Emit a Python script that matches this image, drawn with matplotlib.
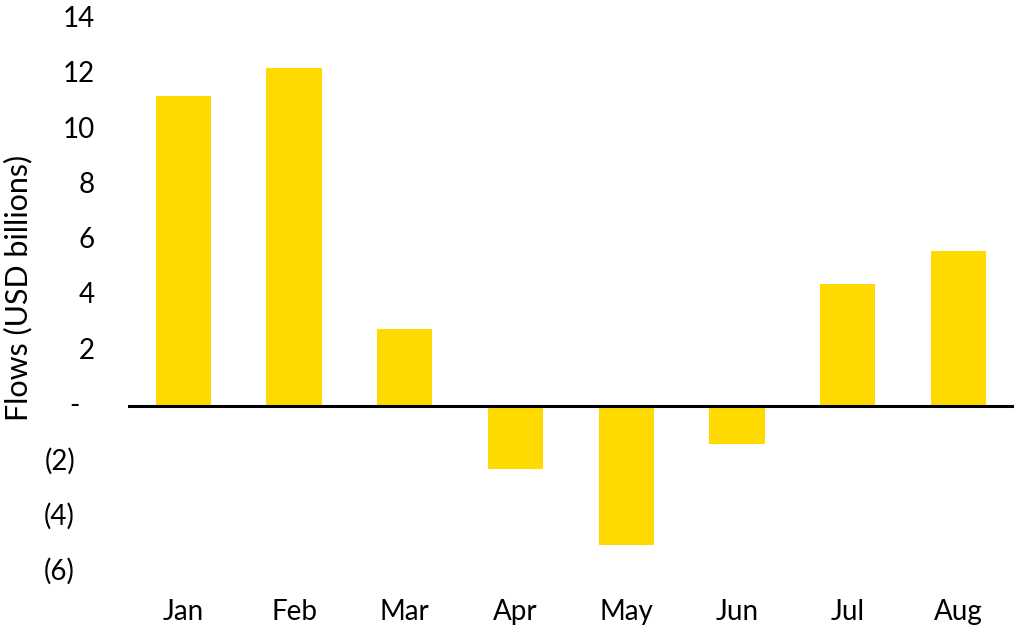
import matplotlib
matplotlib.use("Agg")
import matplotlib.pyplot as plt
import matplotlib.transforms as mtransforms

months = ["Jan", "Feb", "Mar", "Apr", "May", "Jun", "Jul", "Aug"]
flows = [11.23, 12.24, 2.79, -2.29, -5.05, -1.40, 4.40, 5.61]
ytick_values = [-6, -4, -2, 0, 2, 4, 6, 8, 10, 12, 14]
ytick_labels = ["(6)", "(4)", "(2)", "-", "2", "4", "6", "8", "10", "12", "14"]

plt.rcParams['font.family'] = ['Lato', 'DejaVu Sans']

fig = plt.figure(figsize=(10.24, 6.4), dpi=100)
ax = fig.add_axes([0.125, 0.107, 0.865, 0.863])

x = list(range(len(months)))
ax.bar(x, flows, width=0.5, color="#FFDA00", zorder=2)
ax.axhline(0, color="black", linewidth=2.2, zorder=3)

ax.set_xlim(-0.5, len(months) - 0.5)
ax.set_ylim(-6, 14)
for s in ax.spines.values():
    s.set_visible(False)

ax.set_xticks(x)
ax.set_xticklabels(months, fontsize=20)
ax.tick_params(axis='x', length=0, pad=20)

ax.set_yticks(ytick_values)
ax.set_yticklabels([])
ax.tick_params(axis='y', length=0)

trans = mtransforms.blended_transform_factory(ax.transAxes, ax.transData)
for v, lab in zip(ytick_values, ytick_labels):
    if lab.startswith("("):
        off = -53
    elif lab == "-":
        off = -48
    else:
        off = -33
    ax.text(0, v, lab, transform=trans + mtransforms.ScaledTranslation(off / 100, 0, fig.dpi_scale_trans),
            ha='right', va='center', fontsize=20)

fig.text(0.018, 1 - 288 / 640, "Flows (USD billions)", rotation=90,
         ha='center', va='center', fontsize=22)

fig.savefig("out.png", dpi=100)
